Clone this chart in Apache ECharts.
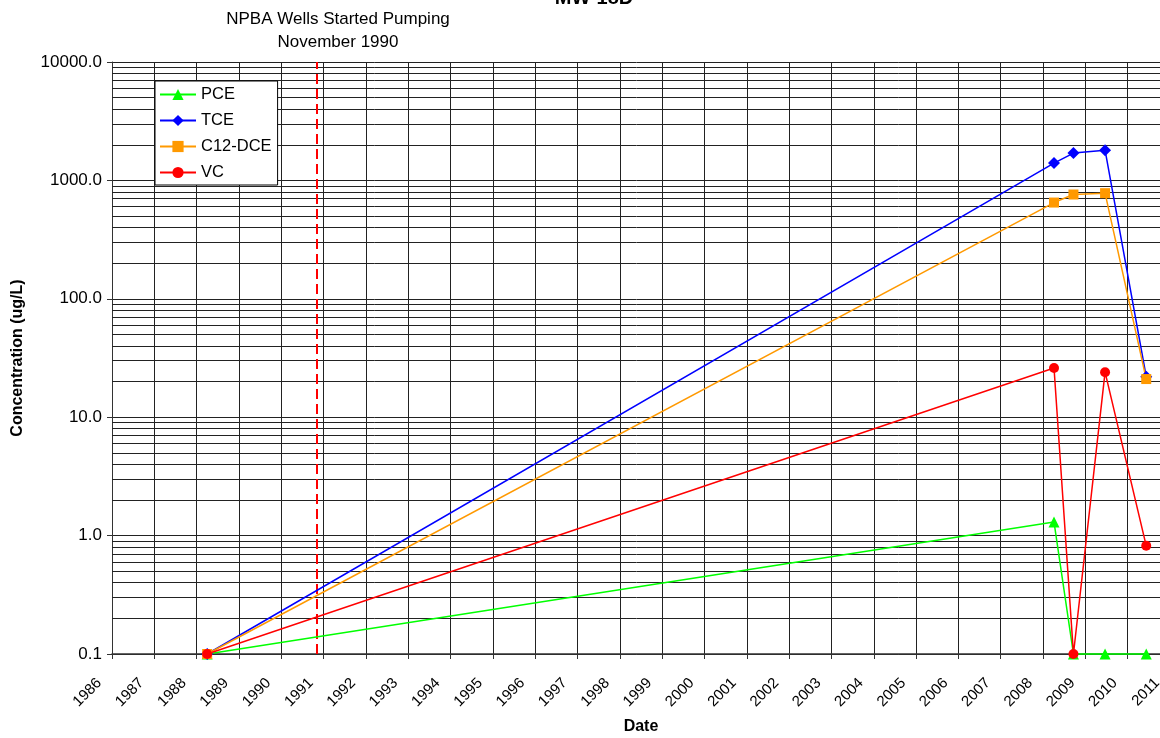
<!DOCTYPE html>
<html>
<head>
<meta charset="utf-8">
<script src="https://cdn.jsdelivr.net/npm/echarts@6/dist/echarts.min.js"></script>
<style>
  html, body { margin: 0; padding: 0; background: #fff; }
  #chart { width: 1160px; height: 738px; }
</style>
</head>
<body>
<div id="chart"></div>
<script>
// sampling dates and concentrations (ug/L)
const sampleDates = ['1988-04-01', '2008-04-05', '2008-09-20', '2009-06-20', '2010-06-10']
const pce = [0.1, 1.3, 0.1, 0.1, 0.1]
const tce = [0.1, 1400, 1700, 1800, 22]
const dce = [0.1, 650, 760, 780, 21]
const vc = [0.1, 26, 0.1, 24, 0.82]
const pumpStart = '1990-11-01'
const yearTicks = [1986, 2011]
const yTicks = [0.1, 1, 10, 100, 1000, 10000]

const FONT = "'Liberation Sans', Arial, sans-serif"

// date string -> decimal year
const toYear = s => {
  const d = new Date(s + 'T00:00:00Z')
  const y = d.getUTCFullYear()
  const start = Date.UTC(y, 0, 1)
  const end = Date.UTC(y + 1, 0, 1)
  return y + (d - start) / (end - start)
}
const xs = sampleDates.map(toYear)
const pairs = vals => vals.map((v, i) => [xs[i], v])

// minor horizontal grid (2..9 per decade)
const minorLines = []
yTicks.slice(0, -1).forEach(d => {
  for (let m = 2; m <= 9; m++) minorLines.push(+(d * m).toPrecision(3))
})

const myChart = echarts.init(document.querySelector('#chart'))

const mkSeries = (name, data, color, symbol, size) => ({
  name,
  type: 'line',
  data: pairs(data),
  symbol,
  symbolSize: size,
  clip: false,
  z: 6,
  lineStyle: { color, width: 1.5 },
  itemStyle: { color },
  emphasis: { disabled: true }
})

const option = {
  animation: false,
  textStyle: { fontFamily: FONT },
  graphic: [
    {
      type: 'text', x: 594, y: -12,
      style: { text: 'MW-18D', textAlign: 'center', font: `bold 20px ${FONT}`, fill: '#000' }
    },
    {
      type: 'text', x: 338, y: 8,
      style: {
        text: 'NPBA Wells Started Pumping\nNovember 1990', textAlign: 'center',
        font: `17px ${FONT}`, fill: '#000', lineHeight: 23
      }
    }
  ],
  legend: {
    orient: 'vertical',
    left: 155,
    top: 81,
    z: 20,
    padding: [5, 6, 4, 4],
    itemWidth: 36,
    itemHeight: 14,
    itemGap: 9,
    backgroundColor: '#fff',
    borderColor: '#000',
    borderWidth: 1,
    textStyle: { fontSize: 16.5, color: '#000', fontFamily: FONT, lineHeight: 17 },
    data: ['PCE', 'TCE', 'C12-DCE', 'VC']
  },
  grid: { left: 112, top: 62, width: 1058, height: 592, outerBoundsMode: 'none' },
  xAxis: {
    type: 'value',
    min: yearTicks[0],
    max: yearTicks[1],
    interval: 1,
    name: 'Date',
    nameLocation: 'middle',
    nameGap: 65,
    nameTextStyle: { fontSize: 16, fontWeight: 'bold', color: '#000' },
    axisLine: { lineStyle: { color: '#333', width: 1.5 } },
    axisTick: { show: true, length: 5, lineStyle: { color: '#333' } },
    axisLabel: {
      rotate: 45,
      fontSize: 15,
      color: '#000',
      margin: 14,
      padding: [0, 18, 0, 0],
      showMaxLabel: true,
      formatter: v => String(v)
    },
    splitLine: { show: true, lineStyle: { color: '#222', width: 1 } }
  },
  yAxis: {
    type: 'log',
    logBase: 10,
    min: yTicks[0],
    max: yTicks[yTicks.length - 1],
    name: 'Concentration (ug/L)',
    nameLocation: 'middle',
    nameGap: 86,
    nameTextStyle: { fontSize: 16, fontWeight: 'bold', color: '#000' },
    axisLine: { show: true, lineStyle: { color: '#333', width: 1 } },
    axisTick: { show: true, length: 5, lineStyle: { color: '#333' } },
    axisLabel: {
      fontSize: 17,
      color: '#000',
      margin: 10,
      formatter: v => Number(v).toFixed(1)
    },
    splitLine: { show: true, lineStyle: { color: '#222', width: 1 } }
  },
  series: [
    {
      name: 'grid',
      type: 'line',
      data: [],
      silent: true,
      z: 1,
      markLine: {
        silent: true,
        symbol: 'none',
        z: 1,
        label: { show: false },
        animation: false,
        lineStyle: { color: '#222', width: 1, type: 'solid' },
        data: minorLines.map(v => ({ yAxis: v }))
      }
    },
    {
      name: 'pump',
      type: 'line',
      data: [],
      silent: true,
      markLine: {
        silent: true,
        symbol: 'none',
        z: 3,
        label: { show: false },
        animation: false,
        lineStyle: { color: '#ff0000', width: 2, type: [10, 5] },
        data: [{ xAxis: toYear(pumpStart) }]
      }
    },
    mkSeries('PCE', pce, '#00ff00', 'triangle', 11),
    mkSeries('TCE', tce, '#0000ff', 'diamond', 12),
    mkSeries('C12-DCE', dce, '#ff9900', 'rect', 10),
    mkSeries('VC', vc, '#ff0000', 'circle', 10)
  ]
}

myChart.setOption(option)
</script>
</body>
</html>
